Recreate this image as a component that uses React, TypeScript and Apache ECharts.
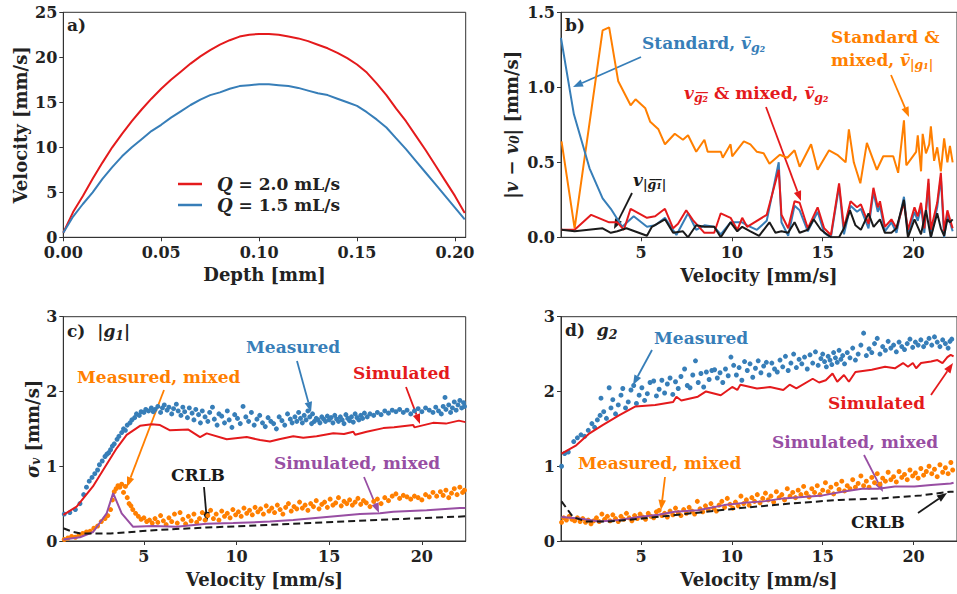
import React, { useEffect, useRef } from "react";
import * as echarts from "echarts";

const FONT = "'DejaVu Serif', serif";
const RED = "#e41a1c";
const BLUE = "#377eb8";
const ORANGE = "#ff7f00";
const PURPLE = "#984ea3";
const BLACK = "#1a1a1a";
const INK = "#222222";

// ---------- panel a ----------
const depth = [0, 0.005, 0.01, 0.015, 0.02, 0.025, 0.03, 0.035, 0.04, 0.045, 0.05, 0.055, 0.06, 0.065, 0.07, 0.075, 0.08, 0.085, 0.09, 0.095, 0.1, 0.105, 0.11, 0.115, 0.12, 0.125, 0.13, 0.135, 0.14, 0.145, 0.15, 0.155, 0.16, 0.165, 0.17, 0.175, 0.18, 0.185, 0.19, 0.195, 0.2, 0.205];
const velQ20 = [0.5, 2.8, 4.6, 6.5, 8.3, 10.0, 11.5, 12.9, 14.2, 15.4, 16.5, 17.5, 18.4, 19.3, 20.1, 20.8, 21.4, 21.9, 22.3, 22.5, 22.6, 22.6, 22.5, 22.3, 22.1, 21.8, 21.4, 21.0, 20.5, 19.9, 19.2, 18.3, 17.1, 15.8, 14.3, 12.9, 11.3, 9.7, 8.0, 6.3, 4.6, 2.7];
const velQ15 = [0.5, 2.3, 3.7, 5.0, 6.5, 7.8, 9.0, 10.0, 10.9, 11.8, 12.5, 13.3, 14.0, 14.7, 15.3, 15.8, 16.1, 16.5, 16.8, 16.9, 17.0, 17.0, 16.9, 16.8, 16.6, 16.3, 16.0, 15.8, 15.4, 15.0, 14.6, 13.9, 13.1, 12.2, 11.0, 9.8, 8.5, 7.2, 5.9, 4.6, 3.3, 2.0];
const depthTicks = [0, 0.05, 0.1, 0.15, 0.2];
const velTicksA = [0, 5, 10, 15, 20, 25];

// ---------- panel b ----------
const bOrange = [[0.63,0.64],[1.35,0.06],[2.89,1.38],[3.25,1.40],[3.75,1.04],[4.43,0.88],[4.70,0.92],[5.24,0.86],[5.51,0.77],[5.96,0.72],[6.32,0.62],[6.86,0.69],[7.31,0.65],[7.59,0.68],[8.04,0.57],[8.49,0.65],[8.67,0.57],[9.39,0.57],[9.5,0.53],[9.93,0.62],[10.02,0.54],[10.66,0.64],[11.02,0.62],[11.38,0.57],[11.75,0.56],[12.07,0.49],[12.64,0.55],[13.05,0.53],[13.45,0.58],[13.73,0.47],[14.36,0.62],[14.72,0.45],[15.35,0.58],[15.8,0.55],[16.26,0.50],[16.44,0.72],[16.71,0.50],[17.07,0.36],[17.43,0.63],[17.98,0.45],[18.33,0.54],[18.88,0.54],[19.15,0.43],[19.47,0.78],[19.6,0.48],[20.14,0.57],[20.23,0.68],[20.41,0.44],[20.5,0.69],[20.68,0.56],[20.86,0.62],[20.95,0.74],[21.13,0.51],[21.3,0.60],[21.5,0.44],[21.68,0.66],[21.86,0.50],[22.0,0.61],[22.15,0.50]];
const bBlue = [[0.6,1.33],[1.31,0.82],[2.17,0.46],[2.89,0.26],[3.34,0.19],[3.97,0.07],[4.6,0.14],[5.33,0.07],[5.78,0.08],[6.32,0.13],[6.95,0.015],[7.59,0.16],[8.04,0.05],[8.49,0.08],[9.03,0.07],[9.39,0.02],[9.93,0.10],[10.3,0.10],[10.57,0.10],[10.84,0.08],[11.38,0.05],[11.92,0.11],[12.58,0.50],[12.73,0.10],[13.1,0.01],[13.45,0.21],[13.73,0.18],[14.18,0.04],[14.72,0.17],[15.08,0.03],[15.45,0.0],[15.9,0.34],[16.17,0.02],[16.53,0.21],[16.89,0.17],[17.1,0.19],[17.52,0.06],[17.79,0.30],[18.03,0.17],[18.15,0.21],[18.42,0.04],[18.78,0.10],[19.06,0.03],[19.47,0.27],[19.69,0.02],[20.05,0.17],[20.23,0.11],[20.41,0.20],[20.59,0.03],[20.82,0.36],[20.95,0.0],[21.3,0.20],[21.5,0.40],[21.68,0.0],[21.86,0.15],[22.0,0.10],[22.15,0.04]];
const bRed = [[0.63,0.05],[1.35,0.05],[2.26,0.15],[3.25,0.10],[3.7,0.10],[4.06,0.05],[4.43,0.19],[4.88,0.16],[5.33,0.13],[5.78,0.14],[6.32,0.19],[6.77,0.06],[7.04,0.09],[7.49,0.18],[7.86,0.115],[8.49,0.03],[9.03,0.03],[9.39,0.16],[9.93,0.13],[10.3,0.05],[10.57,0.13],[10.84,0.07],[11.92,0.15],[12.58,0.45],[12.73,0.15],[13.1,0.06],[13.45,0.24],[13.73,0.23],[14.18,0.06],[14.72,0.20],[15.08,0.06],[15.45,0.015],[15.9,0.36],[16.17,0.06],[16.53,0.24],[16.89,0.20],[17.1,0.22],[17.52,0.09],[17.79,0.33],[18.03,0.20],[18.15,0.24],[18.42,0.07],[18.78,0.12],[19.06,0.06],[19.47,0.23],[19.69,0.05],[20.05,0.20],[20.23,0.14],[20.41,0.23],[20.59,0.06],[20.82,0.39],[20.95,0.05],[21.3,0.23],[21.5,0.43],[21.68,0.04],[21.86,0.18],[22.0,0.12],[22.15,0.06]];
const bBlack = [[0.63,0.05],[1.35,0.04],[2.89,0.06],[3.34,0.03],[3.7,0.04],[4.2,0.06],[5.33,0.01],[5.6,0.07],[6.32,0.12],[6.77,0.03],[7.31,0.04],[7.59,0.0],[8.04,0.08],[8.49,0.07],[9.03,0.07],[9.39,0.0],[9.93,0.10],[10.3,0.04],[10.57,0.07],[11.02,0.04],[11.5,0.01],[12.07,0.10],[12.4,0.03],[12.73,0.04],[13.1,0.03],[13.45,0.10],[13.73,0.03],[14.18,0.05],[14.5,0.12],[14.9,0.05],[15.45,0.0],[15.9,0.0],[16.17,0.06],[16.5,0.18],[16.8,0.08],[17.1,0.05],[17.52,0.16],[17.8,0.07],[18.15,0.12],[18.42,0.03],[18.78,0.03],[19.06,0.06],[19.47,0.25],[19.69,0.0],[20.05,0.12],[20.41,0.02],[20.68,0.18],[20.95,0.0],[21.3,0.16],[21.5,0.06],[21.68,0.01],[21.86,0.12],[22.0,0.10],[22.15,0.12]];
const velTicks = [5, 10, 15, 20];
const errTicks = [0, 0.5, 1, 1.5];

// ---------- panel c (|g1|) ----------
const cMeasured = [[0.7,0.36],[1.0,0.38],[1.3,0.42],[1.55,0.50],[1.75,0.62],[1.9,0.72],[2.05,0.80],[2.2,0.85],[2.35,0.90],[2.5,0.95],[2.6,1.02],[2.75,1.07],[2.9,1.13],[3.0,1.16],[3.1,1.18],[3.2,1.22],[3.3,1.27],[3.4,1.30],[3.55,1.36],[3.65,1.40],[3.8,1.45],[3.9,1.50],[4.0,1.48],[4.1,1.55],[4.25,1.58],[4.35,1.62],[4.5,1.65],[4.6,1.70],[4.75,1.68],[4.85,1.73],[5.0,1.72],[5.1,1.76],[5.25,1.74],[5.4,1.78],[5.5,1.73],[5.6,1.76],[5.75,1.80],[5.9,1.72],[6.0,1.78],[6.1,1.82],[6.25,1.75],[6.35,1.79],[6.5,1.70],[6.6,1.77],[6.75,1.83],[6.85,1.74],[7.0,1.68],[7.1,1.79],[7.2,1.73],[7.35,1.65],[7.45,1.78],[7.6,1.71],[7.7,1.62],[7.8,1.76],[7.95,1.69],[8.05,1.58],[8.15,1.74],[8.3,1.66],[8.45,1.60],[8.55,1.72],[8.7,1.79],[8.8,1.63],[8.95,1.55],[9.05,1.70],[9.2,1.67],[9.35,1.58],[9.5,1.74],[9.6,1.62],[9.75,1.52],[9.9,1.69],[10.05,1.64],[10.2,1.57],[10.35,1.80],[10.5,1.66],[10.65,1.60],[10.8,1.72],[10.95,1.55],[11.1,1.63],[11.25,1.68],[11.4,1.58],[11.55,1.53],[11.7,1.65],[11.85,1.60],[12.0,1.57],[12.15,1.50],[12.3,1.66],[12.45,1.61],[12.6,1.55],[12.75,1.70],[12.9,1.63],[13.0,1.58],[13.15,1.66],[13.25,1.60],[13.35,1.72],[13.45,1.64],[13.55,1.58],[13.65,1.68],[13.75,1.62],[13.85,1.74],[13.95,1.66],[14.05,1.57],[14.1,1.70],[14.2,1.60],[14.3,1.64],[14.4,1.62],[14.5,1.58],[14.6,1.66],[14.7,1.63],[14.8,1.60],[14.9,1.67],[15.0,1.62],[15.1,1.65],[15.2,1.58],[15.3,1.68],[15.4,1.63],[15.5,1.60],[15.6,1.66],[15.7,1.62],[15.8,1.57],[15.9,1.69],[16.0,1.64],[16.1,1.61],[16.2,1.66],[16.3,1.59],[16.4,1.70],[16.5,1.65],[16.6,1.62],[16.7,1.68],[16.8,1.64],[16.9,1.71],[17.05,1.66],[17.2,1.70],[17.4,1.68],[17.6,1.72],[17.8,1.69],[18.0,1.74],[18.2,1.71],[18.4,1.75],[18.6,1.73],[18.8,1.76],[19.0,1.72],[19.2,1.75],[19.4,1.70],[19.6,1.74],[19.8,1.77],[20.0,1.73],[20.2,1.78],[20.4,1.75],[20.6,1.72],[20.75,1.79],[20.9,1.74],[21.05,1.70],[21.15,1.80],[21.25,1.92],[21.3,1.76],[21.45,1.82],[21.55,1.72],[21.65,1.78],[21.75,1.86],[21.85,1.75],[21.95,1.82],[22.05,1.88],[22.15,1.78],[22.25,1.85],[22.3,1.80]];
const cMeasuredMixed = [[0.7,0.02],[0.9,0.04],[1.1,0.06],[1.3,0.05],[1.5,0.08],[1.7,0.10],[1.9,0.12],[2.1,0.13],[2.3,0.17],[2.5,0.20],[2.7,0.26],[2.9,0.30],[3.05,0.34],[3.2,0.42],[3.3,0.55],[3.4,0.66],[3.5,0.70],[3.6,0.74],[3.7,0.72],[3.8,0.76],[3.9,0.65],[4.0,0.73],[4.1,0.58],[4.2,0.50],[4.3,0.47],[4.4,0.42],[4.55,0.37],[4.7,0.33],[4.85,0.29],[5.0,0.31],[5.15,0.26],[5.3,0.28],[5.45,0.24],[5.6,0.30],[5.75,0.25],[5.9,0.34],[6.05,0.27],[6.2,0.22],[6.35,0.31],[6.5,0.26],[6.65,0.36],[6.8,0.24],[6.95,0.38],[7.1,0.29],[7.25,0.23],[7.4,0.33],[7.55,0.27],[7.7,0.36],[7.85,0.25],[8.0,0.30],[8.15,0.38],[8.3,0.28],[8.45,0.34],[8.6,0.41],[8.75,0.30],[8.9,0.36],[9.05,0.28],[9.2,0.40],[9.35,0.33],[9.5,0.37],[9.65,0.31],[9.8,0.42],[9.95,0.35],[10.1,0.39],[10.25,0.33],[10.4,0.44],[10.55,0.37],[10.7,0.41],[10.85,0.35],[11.0,0.45],[11.15,0.39],[11.3,0.43],[11.45,0.36],[11.6,0.47],[11.75,0.40],[11.9,0.44],[12.05,0.38],[12.2,0.48],[12.35,0.42],[12.5,0.36],[12.65,0.45],[12.8,0.50],[12.95,0.40],[13.1,0.46],[13.25,0.43],[13.4,0.52],[13.55,0.44],[13.7,0.48],[13.85,0.41],[14.0,0.50],[14.15,0.46],[14.3,0.54],[14.45,0.43],[14.6,0.49],[14.75,0.52],[14.9,0.45],[15.05,0.56],[15.2,0.48],[15.35,0.51],[15.5,0.58],[15.65,0.47],[15.8,0.53],[15.95,0.50],[16.1,0.55],[16.25,0.48],[16.4,0.52],[16.55,0.57],[16.7,0.49],[16.85,0.54],[17.0,0.51],[17.2,0.46],[17.4,0.53],[17.6,0.56],[17.8,0.50],[18.0,0.58],[18.2,0.54],[18.4,0.60],[18.6,0.63],[18.8,0.57],[19.0,0.61],[19.2,0.59],[19.4,0.56],[19.6,0.60],[19.8,0.58],[20.0,0.55],[20.2,0.62],[20.4,0.59],[20.6,0.65],[20.8,0.60],[21.0,0.66],[21.15,0.61],[21.3,0.68],[21.45,0.58],[21.6,0.64],[21.75,0.70],[21.9,0.62],[22.05,0.72],[22.2,0.65],[22.3,0.68]];
const cSimulated = [[0.65,0.35],[1.37,0.46],[2.25,0.73],[2.8,0.95],[3.53,1.24],[4.07,1.42],[4.79,1.54],[5.42,1.56],[5.87,1.55],[6.41,1.48],[7.4,1.49],[8.03,1.39],[8.39,1.44],[9.47,1.36],[10.55,1.39],[11.27,1.35],[11.8,1.33],[12.3,1.36],[13.06,1.40],[13.6,1.38],[14.32,1.40],[15.22,1.44],[15.8,1.43],[16.3,1.46],[16.4,1.42],[17.02,1.46],[17.92,1.51],[18.5,1.52],[19.54,1.55],[19.6,1.52],[20.6,1.58],[21.3,1.57],[22.0,1.61],[22.35,1.59]];
const cSimulatedMixed = [[0.65,0.02],[1.55,0.05],[2.26,0.12],[2.99,0.37],[3.34,0.64],[3.8,0.37],[4.42,0.19],[5.5,0.20],[6.76,0.19],[8.38,0.23],[9.82,0.24],[11.8,0.26],[13.06,0.28],[14.86,0.32],[16.66,0.36],[17.74,0.37],[18.46,0.39],[20.26,0.41],[22.05,0.44],[22.35,0.44]];
const cCRLB = [[0.65,0.17],[1.2,0.12],[1.6,0.10],[3.2,0.10],[5.86,0.15],[8.38,0.18],[11.26,0.21],[14.86,0.25],[18.46,0.29],[22.35,0.33]];
const sigmaTicks = [0, 1, 2, 3];

// ---------- panel d (g2) ----------
const dMeasured = [[0.63,1.0],[0.8,1.17],[1.0,1.19],[1.3,1.33],[1.5,1.38],[1.7,1.42],[1.9,1.40],[2.1,1.48],[2.3,1.57],[2.45,1.52],[2.6,1.62],[2.75,1.68],[2.8,1.91],[2.95,1.73],[3.1,1.64],[3.25,2.05],[3.35,1.78],[3.45,1.89],[3.6,1.70],[3.75,1.82],[3.9,1.95],[4.0,2.04],[4.15,1.78],[4.3,1.86],[4.45,2.02],[4.6,2.08],[4.75,1.84],[4.9,1.95],[5.05,2.05],[5.2,1.88],[5.35,1.97],[5.5,2.12],[5.7,2.14],[5.85,1.94],[6.0,2.03],[6.15,2.15],[6.3,1.98],[6.45,2.10],[6.6,2.18],[6.75,1.96],[6.9,2.13],[7.05,2.04],[7.2,2.20],[7.4,2.30],[7.55,2.08],[7.7,2.05],[7.85,2.22],[8.0,2.41],[8.15,2.12],[8.3,2.24],[8.45,2.06],[8.6,2.26],[8.75,2.16],[8.9,2.28],[9.05,2.29],[9.2,2.18],[9.35,2.25],[9.5,2.12],[9.65,2.30],[9.8,2.21],[9.95,2.46],[10.1,2.35],[10.25,2.22],[10.4,2.32],[10.55,2.15],[10.7,2.40],[10.85,2.28],[11.0,2.37],[11.15,2.19],[11.3,2.31],[11.45,2.41],[11.6,2.25],[11.75,2.34],[11.9,2.39],[12.05,2.22],[12.2,2.38],[12.35,2.30],[12.5,2.26],[12.65,2.42],[12.8,2.33],[12.95,2.47],[13.1,2.28],[13.25,2.38],[13.4,2.50],[13.55,2.32],[13.7,2.43],[13.85,2.37],[14.0,2.46],[14.15,2.30],[14.3,2.49],[14.45,2.38],[14.6,2.53],[14.75,2.35],[14.9,2.44],[15.0,2.50],[15.1,2.40],[15.2,2.33],[15.3,2.47],[15.4,2.42],[15.5,2.36],[15.6,2.52],[15.7,2.45],[15.8,2.39],[15.9,2.55],[16.0,2.43],[16.1,2.48],[16.2,2.37],[16.35,2.52],[16.5,2.45],[16.65,2.58],[16.8,2.42],[16.95,2.50],[17.1,2.62],[17.25,2.78],[17.4,2.48],[17.55,2.57],[17.7,2.52],[17.85,2.64],[18.0,2.71],[18.15,2.50],[18.3,2.60],[18.45,2.55],[18.6,2.67],[18.75,2.58],[18.9,2.62],[19.05,2.53],[19.2,2.66],[19.35,2.60],[19.5,2.56],[19.65,2.64],[19.8,2.70],[19.95,2.59],[20.1,2.66],[20.25,2.62],[20.4,2.69],[20.55,2.60],[20.7,2.65],[20.85,2.71],[21.0,2.62],[21.15,2.73],[21.3,2.66],[21.45,2.60],[21.6,2.69],[21.75,2.64],[21.9,2.58],[22.0,2.67],[22.1,2.70]];
const dMeasuredMixed = [[0.63,0.25],[0.75,0.31],[0.9,0.28],[1.05,0.33],[1.2,0.29],[1.35,0.27],[1.5,0.31],[1.65,0.26],[1.8,0.30],[1.95,0.25],[2.1,0.28],[2.25,0.23],[2.4,0.27],[2.55,0.31],[2.7,0.26],[2.85,0.36],[3.0,0.29],[3.15,0.33],[3.3,0.27],[3.45,0.35],[3.6,0.30],[3.75,0.26],[3.9,0.33],[4.05,0.29],[4.2,0.37],[4.35,0.31],[4.5,0.27],[4.65,0.34],[4.8,0.30],[4.95,0.36],[5.1,0.32],[5.25,0.29],[5.4,0.37],[5.55,0.33],[5.7,0.31],[5.85,0.39],[6.0,0.41],[6.15,0.34],[6.3,0.37],[6.45,0.32],[6.6,0.40],[6.75,0.35],[6.9,0.44],[7.05,0.38],[7.2,0.34],[7.35,0.42],[7.5,0.37],[7.65,0.45],[7.8,0.40],[7.95,0.36],[8.1,0.53],[8.25,0.43],[8.4,0.39],[8.55,0.47],[8.7,0.42],[8.85,0.50],[9.0,0.44],[9.15,0.40],[9.3,0.48],[9.45,0.53],[9.6,0.45],[9.75,0.57],[9.9,0.49],[10.05,0.44],[10.2,0.52],[10.35,0.47],[10.5,0.60],[10.65,0.50],[10.8,0.55],[10.95,0.48],[11.1,0.58],[11.25,0.53],[11.4,0.62],[11.55,0.51],[11.7,0.57],[11.85,0.64],[12.0,0.55],[12.15,0.60],[12.3,0.52],[12.45,0.66],[12.6,0.58],[12.75,0.62],[12.9,0.55],[13.05,0.70],[13.2,0.60],[13.35,0.65],[13.5,0.58],[13.65,0.68],[13.8,0.62],[13.95,0.73],[14.1,0.64],[14.25,0.59],[14.4,0.70],[14.55,0.65],[14.7,0.74],[14.85,0.62],[15.0,0.68],[15.15,0.78],[15.3,0.66],[15.45,0.72],[15.6,0.63],[15.75,0.76],[15.9,0.69],[16.05,0.80],[16.2,0.67],[16.35,0.74],[16.5,0.70],[16.65,0.82],[16.8,0.72],[16.95,0.77],[17.1,0.87],[17.25,0.74],[17.4,0.80],[17.55,0.72],[17.7,0.85],[17.85,0.78],[18.0,0.90],[18.15,0.76],[18.3,0.84],[18.45,0.80],[18.6,0.92],[18.75,0.82],[18.9,0.86],[19.05,0.79],[19.2,0.93],[19.35,0.85],[19.5,0.89],[19.65,0.82],[19.8,0.95],[19.95,0.87],[20.1,0.91],[20.25,0.84],[20.4,0.97],[20.55,0.88],[20.7,0.93],[20.85,1.00],[21.0,0.90],[21.15,0.96],[21.3,0.86],[21.45,1.02],[21.6,0.92],[21.75,0.98],[21.9,0.90],[22.05,1.05],[22.15,0.95]];
const dSimulated = [[0.63,1.17],[1.44,1.28],[2.17,1.44],[2.89,1.55],[3.79,1.68],[4.7,1.80],[5.78,1.82],[6.77,1.86],[6.95,1.93],[7.22,1.88],[8.13,1.93],[8.58,2.0],[9.39,1.95],[10.02,2.06],[10.3,2.02],[10.47,2.09],[11.38,2.04],[12.1,2.06],[12.83,2.02],[13.18,2.09],[13.55,2.04],[14.45,2.17],[14.8,2.12],[15.17,2.15],[15.54,2.24],[15.8,2.13],[16.17,2.22],[16.44,2.13],[16.8,2.26],[17.7,2.29],[18.43,2.33],[18.97,2.31],[19.42,2.38],[19.69,2.33],[19.96,2.38],[20.14,2.31],[20.41,2.38],[20.96,2.40],[21.31,2.42],[21.59,2.38],[21.86,2.46],[22.04,2.49],[22.2,2.47]];
const dSimulatedMixed = [[0.63,0.32],[1.62,0.30],[2.71,0.26],[3.79,0.28],[4.88,0.32],[5.96,0.35],[6.86,0.39],[8.13,0.41],[9.57,0.48],[10.66,0.51],[11.74,0.53],[12.83,0.57],[13.91,0.59],[15.0,0.61],[16.08,0.66],[17.16,0.70],[18.06,0.70],[18.97,0.73],[20.05,0.73],[20.96,0.75],[22.04,0.77],[22.2,0.78]];
const dCRLB = [[0.63,0.53],[1.26,0.32],[1.99,0.26],[3.25,0.26],[5.05,0.30],[7.76,0.37],[10.47,0.44],[13.18,0.50],[15.9,0.55],[18.25,0.57],[20.41,0.61],[22.04,0.66],[22.2,0.66]];

// ---------- layout ----------
const GRIDS = [
  { left: 63.3, top: 12.3, width: 402.4, height: 225 },
  { left: 561, top: 12.3, width: 402, height: 225 },
  { left: 63.3, top: 316.7, width: 402.4, height: 224.3 },
  { left: 561, top: 316.7, width: 402, height: 224.3 },
];

const baseRich: any = {
  n: { fontFamily: FONT, fontWeight: "bold", fontSize: 17, lineHeight: 22 },
  i: { fontFamily: FONT, fontWeight: "bold", fontStyle: "italic", fontSize: 17, lineHeight: 22 },
  s: { fontFamily: FONT, fontWeight: "bold", fontStyle: "italic", fontSize: 12.5, lineHeight: 12, verticalAlign: "bottom" },
};

function richFor(color: string) {
  const r: any = {};
  Object.keys(baseRich).forEach((k) => (r[k] = { ...baseRich[k], color }));
  return r;
}

function label(x: number, y: number, text: string, color: string) {
  return {
    type: "text",
    x,
    y,
    style: {
      text,
      rich: richFor(color),
      fill: color,
      fontFamily: FONT,
      fontWeight: "bold",
      fontSize: 17,
      align: "left",
      verticalAlign: "middle",
    },
  };
}

function arrow(x1: number, y1: number, x2: number, y2: number, color: string) {
  const ang = Math.atan2(y2 - y1, x2 - x1);
  const L = 10;
  const W = 3.8;
  const bx = x2 - L * Math.cos(ang);
  const by = y2 - L * Math.sin(ang);
  const px = -Math.sin(ang) * W;
  const py = Math.cos(ang) * W;
  return [
    { type: "line", shape: { x1, y1, x2: bx, y2: by }, style: { stroke: color, lineWidth: 1.8 } },
    { type: "polygon", shape: { points: [[x2, y2], [bx + px, by + py], [bx - px, by - py]] }, style: { fill: color } },
  ];
}

const axisCommon = {
  axisLine: { show: true, lineStyle: { color: "#333", width: 1 } },
  axisTick: { show: true, inside: false, length: 4, lineStyle: { color: "#333" } },
  splitLine: { show: false },
};
const tickFont = { fontFamily: FONT, fontWeight: "bold", fontSize: 16, color: INK };
const nameFont = { fontFamily: FONT, fontWeight: "bold", fontSize: 18, color: INK };

function xAx(gridIndex: number, min: number, max: number, ticks: number[], fmt: (v: number) => string) {
  return {
    type: "value",
    gridIndex,
    min,
    max,
    ...axisCommon,
    axisTick: { ...axisCommon.axisTick, customValues: ticks },
    axisLabel: { ...tickFont, margin: 8, lineHeight: 14, customValues: ticks, formatter: fmt },
    name: "Velocity [mm/s]",
    nameLocation: "middle",
    nameGap: 29,
    nameTextStyle: nameFont,
  };
}
function yAx(gridIndex: number, min: number, max: number, ticks: number[], fmt: (v: number) => string, name: string, gap: number, rich?: any) {
  return {
    type: "value",
    gridIndex,
    min,
    max,
    ...axisCommon,
    axisTick: { ...axisCommon.axisTick, customValues: ticks },
    axisLabel: { ...tickFont, margin: 6, lineHeight: 13, customValues: ticks, formatter: fmt },
    name,
    nameLocation: "middle",
    nameGap: gap,
    nameTextStyle: { ...nameFont, rich },
  };
}

const lineS = (name: string, xi: number, data: any[], color: string, extra: any = {}) => ({
  type: "line",
  name,
  xAxisIndex: xi,
  yAxisIndex: xi,
  data,
  symbol: "none",
  showSymbol: false,
  lineStyle: { color, width: 2, ...(extra.lineStyle || {}) },
  itemStyle: { color },
  z: extra.z ?? 3,
});
const scatterS = (name: string, xi: number, data: any[], color: string) => ({
  type: "scatter",
  name,
  xAxisIndex: xi,
  yAxisIndex: xi,
  data,
  symbolSize: 5,
  itemStyle: { color, opacity: 1 },
  z: 2,
});

export default function App() {
  const ref = useRef<HTMLDivElement>(null);
  useEffect(() => {
    const chart = echarts.init(ref.current!, null, { renderer: "svg" });
    const f0 = (v: number) => String(Math.round(v));
    const nameRich = {
      i: { fontFamily: FONT, fontWeight: "bold", fontStyle: "italic", fontSize: 18, color: INK },
      s: { fontFamily: FONT, fontWeight: "bold", fontStyle: "italic", fontSize: 12, color: INK, padding: [8, 0, 0, 0] },
      n: { fontFamily: FONT, fontWeight: "bold", fontSize: 18, color: INK },
    };
    const graphics: any[] = [
      label(67, 25, "{n|a)}", INK),
      label(565, 25, "{n|b)}", INK),
      label(67, 331, "{n|c)}  {n||}{i|g}{s|1}{n||}", INK),
      label(565, 330, "{n|d)}  {i|g}{s|2}", INK),
      // panel b
      label(642, 43, "{n|Standard, }{i|v\u0304}{s|g\u2082}", BLUE),
      ...arrow(641, 57, 573, 87, BLUE),
      label(831, 37, "{n|Standard &}", ORANGE),
      label(831, 60, "{n|mixed, }{i|v\u0304}{s||g\u2081|}", ORANGE),
      ...arrow(891, 75, 909, 117, ORANGE),
      label(684, 93, "{i|v}{s|g\u0305\u2082\u0305}{n| & mixed, }{i|v\u0304}{s|g\u2082}", RED),
      ...arrow(766, 107, 801, 201, RED),
      label(633, 180, "{i|v}{s||g\u0305\u2081\u0305|}", BLACK),
      ...arrow(632, 193, 614, 229, BLACK),
      // panel c
      label(246, 347, "{n|Measured}", BLUE),
      ...arrow(297, 361, 311, 412, BLUE),
      label(353, 373, "{n|Simulated}", RED),
      ...arrow(406, 387, 420, 424, RED),
      label(77, 377, "{n|Measured, mixed}", ORANGE),
      ...arrow(164, 390, 127, 487, ORANGE),
      label(274, 463, "{n|Simulated, mixed}", PURPLE),
      ...arrow(364, 477, 379, 513, PURPLE),
      label(171, 475, "{n|CRLB}", BLACK),
      ...arrow(204, 487, 207, 522, BLACK),
      // panel d
      label(654, 338, "{n|Measured}", BLUE),
      ...arrow(652, 350, 633, 385, BLUE),
      label(828, 403, "{n|Simulated}", RED),
      ...arrow(931, 395, 953, 363, RED),
      label(772, 442, "{n|Simulated, mixed}", PURPLE),
      ...arrow(864, 455, 883, 492, PURPLE),
      label(578, 463, "{n|Measured, mixed}", ORANGE),
      ...arrow(665, 477, 661, 510, ORANGE),
      label(851, 522, "{n|CRLB}", BLACK),
      ...arrow(918, 513, 947, 493, BLACK),
    ];

    const option: any = {
      animation: false,
      backgroundColor: "#ffffff",
      grid: GRIDS.map((g) => ({ ...g, show: true, borderColor: "#333", borderWidth: 1, backgroundColor: "transparent" })),
      legend: {
        data: ["Q = 2.0 mL/s", "Q = 1.5 mL/s"],
        orient: "vertical",
        left: 173,
        top: 170,
        icon: "rect",
        itemWidth: 24,
        itemHeight: 2.5,
        itemGap: 3,
        formatter: (n: string) => "{q|Q}{t|" + n.slice(1) + "}",
        textStyle: {
          fontFamily: FONT,
          fontWeight: "bold",
          fontSize: 17,
          color: INK,
          rich: {
            q: { fontFamily: FONT, fontWeight: "bold", fontStyle: "italic", fontSize: 18, lineHeight: 22, color: INK, padding: [0, 0, 0, 10] },
            t: { fontFamily: FONT, fontWeight: "bold", fontSize: 17, lineHeight: 22, color: INK },
          },
        },
      },
      xAxis: [
        {
          ...xAx(0, 0, 0.2055, depthTicks, (v: number) => v.toFixed(2)),
          name: "Depth [mm]",
          nameGap: 28,
        },
        xAx(1, 0.6, 0.6 + 402 / 18.45, velTicks, f0),
        xAx(2, 0.65, 0.65 + 402.4 / 18.53, velTicks, f0),
        xAx(3, 0.6, 0.6 + 402 / 18.45, velTicks, f0),
      ],
      yAxis: [
        yAx(0, 0, 25, velTicksA, f0, "Velocity [mm/s]", 34),
        yAx(1, 0, 1.5, errTicks, (v: number) => v.toFixed(1), "{n||}{i|v}{n| \u2212 }{i|v}{s|0}{n|| [mm/s]}", 40, nameRich),
        yAx(2, 0, 3, sigmaTicks, f0, "{i|\u03c3}{s|v}{n| [mm/s]}", 20, nameRich),
        { ...yAx(3, 0, 3, sigmaTicks, f0, "", 20), name: "" },
      ],
      series: [
        lineS("Q = 2.0 mL/s", 0, depth.map((d, i) => [d, velQ20[i]]), RED),
        lineS("Q = 1.5 mL/s", 0, depth.map((d, i) => [d, velQ15[i]]), BLUE),
        lineS("Standard & mixed |g1|", 1, bOrange, ORANGE),
        lineS("Standard g2", 1, bBlue, BLUE),
        lineS("g2 bar & mixed", 1, bRed, RED),
        lineS("v |g1 bar|", 1, bBlack, BLACK, { z: 4 }),
        scatterS("Measured c", 2, cMeasured, BLUE),
        scatterS("Measured mixed c", 2, cMeasuredMixed, ORANGE),
        lineS("Simulated c", 2, cSimulated, RED),
        lineS("Simulated mixed c", 2, cSimulatedMixed, PURPLE),
        lineS("CRLB c", 2, cCRLB, BLACK, { lineStyle: { type: [7, 4] }, z: 4 }),
        scatterS("Measured d", 3, dMeasured, BLUE),
        scatterS("Measured mixed d", 3, dMeasuredMixed, ORANGE),
        lineS("Simulated d", 3, dSimulated, RED),
        lineS("Simulated mixed d", 3, dSimulatedMixed, PURPLE),
        lineS("CRLB d", 3, dCRLB, BLACK, { lineStyle: { type: [7, 4] }, z: 4 }),
      ],
      graphic: graphics,
    };
    chart.setOption(option);
    return () => chart.dispose();
  }, []);
  return <div ref={ref} style={{ position: "fixed", left: 0, top: 0, width: 957, height: 594 }} />;
}
